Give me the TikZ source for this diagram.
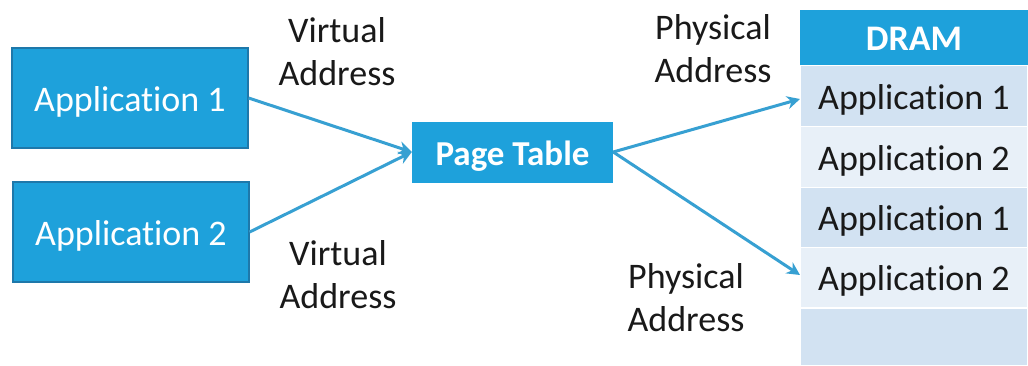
\documentclass[tikz,border=0pt]{standalone}
\usepackage{fontspec}
\setmainfont[Ligatures=NoCommon]{Carlito}
\usetikzlibrary{arrows.meta}
\definecolor{boxblue}{RGB}{30,161,219}
\definecolor{boxedge}{RGB}{30,120,170}
\definecolor{arrowblue}{RGB}{55,160,210}
\definecolor{rowdark}{RGB}{210,226,242}
\definecolor{rowlight}{RGB}{232,240,248}
\definecolor{txt}{RGB}{25,25,25}
\tikzset{
  appbox/.style={draw=boxedge, line width=1.2pt, fill=boxblue, text=white, inner sep=0pt, text height=26pt, text depth=0pt, font=\fontsize{36}{40}\selectfont},
  ptbox/.style={fill=boxblue, text=white, inner sep=0pt, text height=26pt, text depth=0pt, font=\fontsize{35}{40}\selectfont\bfseries},
  lbl/.style={text=txt, align=center, font=\fontsize{36}{43}\selectfont, inner sep=0pt},
  cell/.style={draw=white, line width=1.5pt, text=txt, inner sep=0pt, text height=26pt, text depth=0pt, font=\fontsize{36}{40}\selectfont},
  conn/.style={draw=arrowblue, line width=3pt, -{Stealth[length=13pt,width=13pt]}}
}
\begin{document}
\begin{tikzpicture}[x=1pt,y=-1pt]
\useasboundingbox[fill=white] (0,0) rectangle (1028,365);
% left boxes
\node[appbox, minimum width=236pt, minimum height=100pt] (app1) at (130,98) {Application 1};
\node[appbox, minimum width=236pt, minimum height=100pt] (app2) at (131,232) {Application 2};
% page table
\node[ptbox, minimum width=201pt, minimum height=61pt] (pt) at (512.5,152) {Page Table};
% DRAM column
\node[fill=boxblue, text=white, inner sep=0pt, text height=26pt, text depth=0pt, minimum width=228pt, minimum height=55pt, font=\fontsize{36}{40}\selectfont\bfseries] (dram) at (914,37.5) {DRAM};
\node[cell, fill=rowdark, minimum width=228pt, minimum height=61pt] (r1) at (914,96) {Application 1};
\node[cell, fill=rowlight, minimum width=228pt, minimum height=61pt] (r2) at (914,157) {Application 2};
\node[cell, fill=rowdark, minimum width=228pt, minimum height=60pt] (r3) at (914,217.5) {Application 1};
\node[cell, fill=rowlight, minimum width=228pt, minimum height=60pt] (r4) at (914,277.5) {Application 2};
\node[cell, fill=rowdark, minimum width=228pt, minimum height=58pt] (r5) at (914,337) {};
% labels
\node[lbl] (va1) at (337,52) {Virtual\\Address};
\node[lbl] (va2) at (338,275) {Virtual\\Address};
\node[lbl] (pa1) at (713,49) {Physical\\Address};
\node[lbl] (pa2) at (686,298) {Physical\\Address};
% connectors
\coordinate (t1) at (800,99);
\coordinate (t2) at (800,275);
\draw[conn] (app1.east) -- (pt.west);
\draw[conn] (app2.east) -- (pt.west);
\draw[conn] (pt.east) -- (t1);
\draw[conn] (pt.east) -- (t2);
\end{tikzpicture}
\end{document}
